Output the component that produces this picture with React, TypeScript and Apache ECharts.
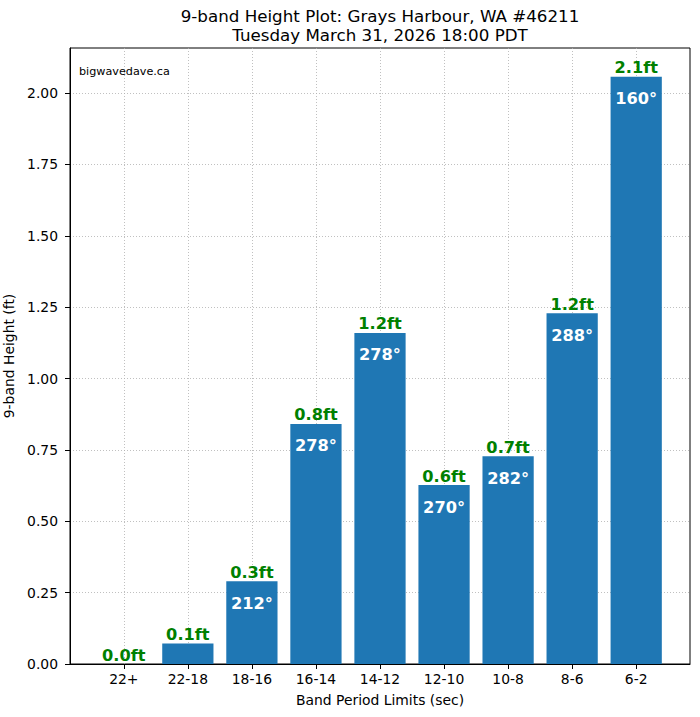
import React, { useEffect, useRef } from "react";
import * as echarts from "echarts";

const categories = ["22+", "22-18", "18-16", "16-14", "14-12", "12-10", "10-8", "8-6", "6-2"];
const heights = [0.0, 0.072, 0.29, 0.841, 1.16, 0.627, 0.728, 1.229, 2.057];
const heightLabels = ["0.0ft", "0.1ft", "0.3ft", "0.8ft", "1.2ft", "0.6ft", "0.7ft", "1.2ft", "2.1ft"];
const directionLabels = ["", "", "212°", "278°", "278°", "270°", "282°", "288°", "160°"];
const yTicks = [0, 0.25, 0.5, 0.75, 1.0, 1.25, 1.5, 1.75, 2.0];
const titleLines = ["9-band Height Plot: Grays Harbour, WA #46211", "Tuesday March 31, 2026 18:00 PDT"];

const FONT = "DejaVu Sans";

export default function App() {
  const ref = useRef<HTMLDivElement>(null);
  useEffect(() => {
    if (!ref.current) return;
    const chart = echarts.init(ref.current, undefined, { renderer: "svg" });
    const xIdx = categories.map((_, i) => i);
    const gridLeft = 70;
    const gridRight = 10;
    const gridW = 700 - gridLeft - gridRight;
    const xMin = -0.84;
    const xMax = 8.84;
    const barW = (gridW / (xMax - xMin)) * 0.8;
    chart.setOption({
      animation: false,
      backgroundColor: "#ffffff",
      graphic: [
        {
          type: "text",
          z: 10,
          style: {
            text: titleLines[0],
            x: 380,
            y: 15.5,
            align: "center",
            verticalAlign: "middle",
            fontFamily: FONT,
            fontSize: 16.7,
            fill: "#000",
          },
        },
        {
          type: "text",
          z: 10,
          style: {
            text: titleLines[1],
            x: 380,
            y: 34.8,
            align: "center",
            verticalAlign: "middle",
            fontFamily: FONT,
            fontSize: 16.7,
            fill: "#000",
          },
        },
        {
          type: "text",
          left: 79,
          top: 66,
          style: { text: "bigwavedave.ca", fontFamily: FONT, fontSize: 11.2, fill: "#000" },
          z: 10,
        },
      ],
      grid: {
        left: gridLeft,
        right: gridRight,
        top: 48,
        bottom: 53,
        outerBoundsMode: "none",
        containLabel: false,
        show: true,
        borderColor: "#000",
        borderWidth: 1,
        backgroundColor: "transparent",
      },
      xAxis: {
        type: "value",
        min: xMin,
        max: xMax,
        name: "Band Period Limits (sec)",
        nameLocation: "middle",
        nameGap: 29,
        nameTextStyle: { fontFamily: FONT, fontSize: 13.9, color: "#000" },
        axisLine: { show: true, onZero: false, lineStyle: { color: "#000", width: 1 } },
        axisTick: { show: true, customValues: xIdx, length: 5, lineStyle: { color: "#000" } },
        axisLabel: {
          customValues: xIdx,
          formatter: (v: number) => categories[Math.round(v)] ?? "",
          fontFamily: FONT,
          fontSize: 13.9,
          color: "#000",
          margin: 8,
        },
        splitLine: { show: true, lineStyle: { color: "#b0b0b0", type: [1, 2], width: 0.8 } },
      },
      yAxis: {
        type: "value",
        min: 0,
        max: 2.158,
        name: "9-band Height (ft)",
        nameLocation: "middle",
        nameGap: 48,
        nameRotate: 90,
        nameTextStyle: { fontFamily: FONT, fontSize: 13.9, color: "#000" },
        axisLine: { show: true, onZero: false, lineStyle: { color: "#000", width: 1 } },
        axisTick: { show: true, customValues: yTicks, length: 5, lineStyle: { color: "#000" } },
        axisLabel: {
          customValues: yTicks,
          formatter: (v: number) => v.toFixed(2),
          fontFamily: FONT,
          fontSize: 13.9,
          color: "#000",
          margin: 12,
        },
        splitLine: { show: true, lineStyle: { color: "#b0b0b0", type: [1, 2], width: 0.8 } },
      },
      series: [
        {
          type: "bar",
          barWidth: barW,
          data: heights.map((h, i) => [i, h]),
          itemStyle: { color: "#1f77b4" },
          z: 2,
          label: {
            show: true,
            position: "top",
            distance: 1,
            formatter: (p: any) => heightLabels[p.dataIndex],
            color: "#008000",
            fontFamily: FONT,
            fontWeight: "bold",
            fontSize: 16.2,
          },
        },
        {
          type: "scatter",
          symbolSize: 0,
          data: heights.map((h, i) => [i, h]),
          z: 5,
          silent: true,
          itemStyle: { opacity: 1 },
          label: {
            show: true,
            position: "inside",
            offset: [0, 22],
            formatter: (p: any) => directionLabels[p.dataIndex],
            color: "#ffffff",
            opacity: 1,
            fontFamily: FONT,
            fontWeight: "bold",
            fontSize: 16.2,
          },
        },
      ],
    });
    return () => chart.dispose();
  }, []);
  return (
    <div
      ref={ref}
      style={{ position: "fixed", left: 0, top: 0, width: 700, height: 717 }}
    />
  );
}
